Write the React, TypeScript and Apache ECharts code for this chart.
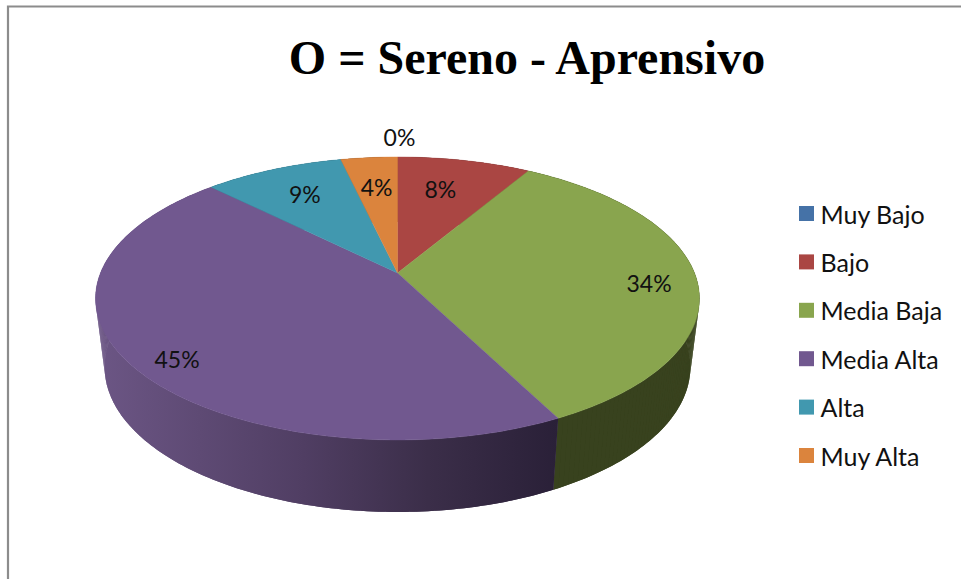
import React, { useEffect, useRef } from "react";
import * as echarts from "echarts";

const chartTitle = "O = Sereno - Aprensivo";
const categories = ["Muy Bajo", "Bajo", "Media Baja", "Media Alta", "Alta", "Muy Alta"];
const shareValues = [0, 8.49, 34.01, 45, 8.9, 3.6];
const shareLabels = ["0%", "8%", "34%", "45%", "9%", "4%"];

const topColors = ["#4572A7", "#AA4643", "#89A54E", "#71588F", "#4198AF", "#DB843D"];
const wallColors: any[] = [
  "#2a4163",
  "#652a28",
  "#38421e",
  new echarts.graphic.LinearGradient(96, 0, 557, 0, [
    { offset: 0, color: "#6c5685" },
    { offset: 0.45, color: "#503e63" },
    { offset: 0.72, color: "#3b2e49" },
    { offset: 1, color: "#2a2038" },
  ], true),
  "#275a68",
  "#824e24",
];
const labelRadius = [1.2, 0.7, 0.85, 0.85, 0.7, 0.7];
const labelNudgeX = [2, -6, -2, 4, -2, 0];
const labelNudgeY = [-1, -2, 6, 11, -3, -1];

// Projection of the tilted disc onto the page
const APEX_X = 397.5;
const APEX_Y = 273;
const PROJ_A = 297;
const PROJ_B = 136.9;
const PROJ_K = 0.18;
const ELLIPSE_CY = 298.5;
const BASE_CY = 367;
const BASE_SX = 0.97;
const BASE_SY = 1.025;

const total = shareValues.reduce((a, b) => a + b, 0);

function project(angleDeg: number, r = 1): [number, number] {
  const t = (angleDeg * Math.PI) / 180;
  const u = Math.sin(t) * r;
  const v = Math.cos(t) * r;
  const d = 1 + PROJ_K * v;
  return [APEX_X + (PROJ_A * u) / d, APEX_Y - (PROJ_B * v) / d];
}

function toBase(p: [number, number]): [number, number] {
  return [APEX_X + BASE_SX * (p[0] - APEX_X), BASE_CY + BASE_SY * (p[1] - ELLIPSE_CY)];
}

function sliceAngles(index: number, value: number): [number, number] {
  let before = 0;
  for (let i = 0; i < index; i++) before += shareValues[i];
  return [(before / total) * 360, ((before + value) / total) * 360];
}

function arc(a0: number, a1: number): [number, number][] {
  const n = Math.max(2, Math.ceil(a1 - a0));
  const pts: [number, number][] = [];
  for (let i = 0; i <= n; i++) pts.push(project(a0 + ((a1 - a0) * i) / n));
  return pts;
}

const wallItem = (index: number) => (params: any, api: any) => {
  const value = api.value(0);
  if (!value) return { type: "group", children: [] };
  const [a0, a1] = sliceAngles(index, value);
  const top = arc(a0, a1);
  const base = top.map(toBase);
  const fill = wallColors[index];
  // The whole band first, so that the seams of the strips above it do not show.
  const children: any[] = [
    {
      type: "polygon",
      shape: { points: [...top, ...base.slice().reverse()] },
      style: { fill },
    },
  ];
  // The strips fill the side of the silhouette between the two rims.
  for (let i = 0; i < top.length - 1; i++) {
    children.push({
      type: "polygon",
      shape: { points: [top[i], top[i + 1], base[i + 1], base[i]] },
      style: { fill },
    });
  }
  return { type: "group", children };
};

const topItem = (index: number) => (params: any, api: any) => {
  const value = api.value(0);
  const [a0, a1] = sliceAngles(index, value);
  const children: any[] = [];
  if (value > 0) {
    children.push({
      type: "polygon",
      shape: { points: [[APEX_X, APEX_Y], ...arc(a0, a1)] },
      style: { fill: topColors[index], stroke: topColors[index], lineWidth: 0.4 },
    });
  }
  const [lx, ly] = project((a0 + a1) / 2, labelRadius[index]);
  children.push({
    type: "text",
    x: lx + labelNudgeX[index],
    y: ly + labelNudgeY[index],
    z2: 10,
    style: {
      text: shareLabels[index],
      fill: "#111111",
      font: "23px Lato",
      textAlign: "center",
      textVerticalAlign: "middle",
    },
  });
  return { type: "group", children };
};

export default function App() {
  const ref = useRef<HTMLDivElement>(null);
  useEffect(() => {
    if (!ref.current) return;
    const chart = echarts.init(ref.current, undefined, { renderer: "svg" });
    chart.setOption({
      animation: false,
      backgroundColor: "#ffffff",
      title: {
        text: chartTitle,
        left: 522,
        top: 28,
        textAlign: "center",
        textStyle: {
          fontFamily: "Liberation Serif",
          fontWeight: "bold",
          fontSize: 48,
          color: "#000000",
        },
      },
      legend: {
        orient: "vertical",
        left: 799,
        top: 201,
        padding: 0,
        itemWidth: 15,
        itemHeight: 15,
        itemGap: 23.4,
        icon: "rect",
        data: categories,
        textStyle: {
          fontFamily: "Lato",
          fontSize: 25,
          color: "#111111",
          padding: [0, 0, 0, 1.5],
        },
      },
      graphic: [
        {
          type: "polyline",
          shape: { points: [[8, 579], [8, 6.5], [961, 6.5]] },
          style: { fill: "none", stroke: "#8c8c8c", lineWidth: 2.2 },
          silent: true,
        },
      ],
      series: [
        ...categories.map((name, i) => ({
          type: "custom",
          name: "Pared " + name,
          coordinateSystem: "none",
          z: 2,
          silent: true,
          renderItem: wallItem(i),
          data: [[shareValues[i]]],
        })),
        ...categories.map((name, i) => ({
          type: "custom",
          name,
          coordinateSystem: "none",
          z: 3,
          silent: true,
          itemStyle: { color: topColors[i] },
          renderItem: topItem(i),
          data: [[shareValues[i]]],
        })),
      ],
    });
    return () => chart.dispose();
  }, []);
  return (
    <div
      ref={ref}
      style={{ position: "absolute", left: 0, top: 0, width: 961, height: 579 }}
    />
  );
}
